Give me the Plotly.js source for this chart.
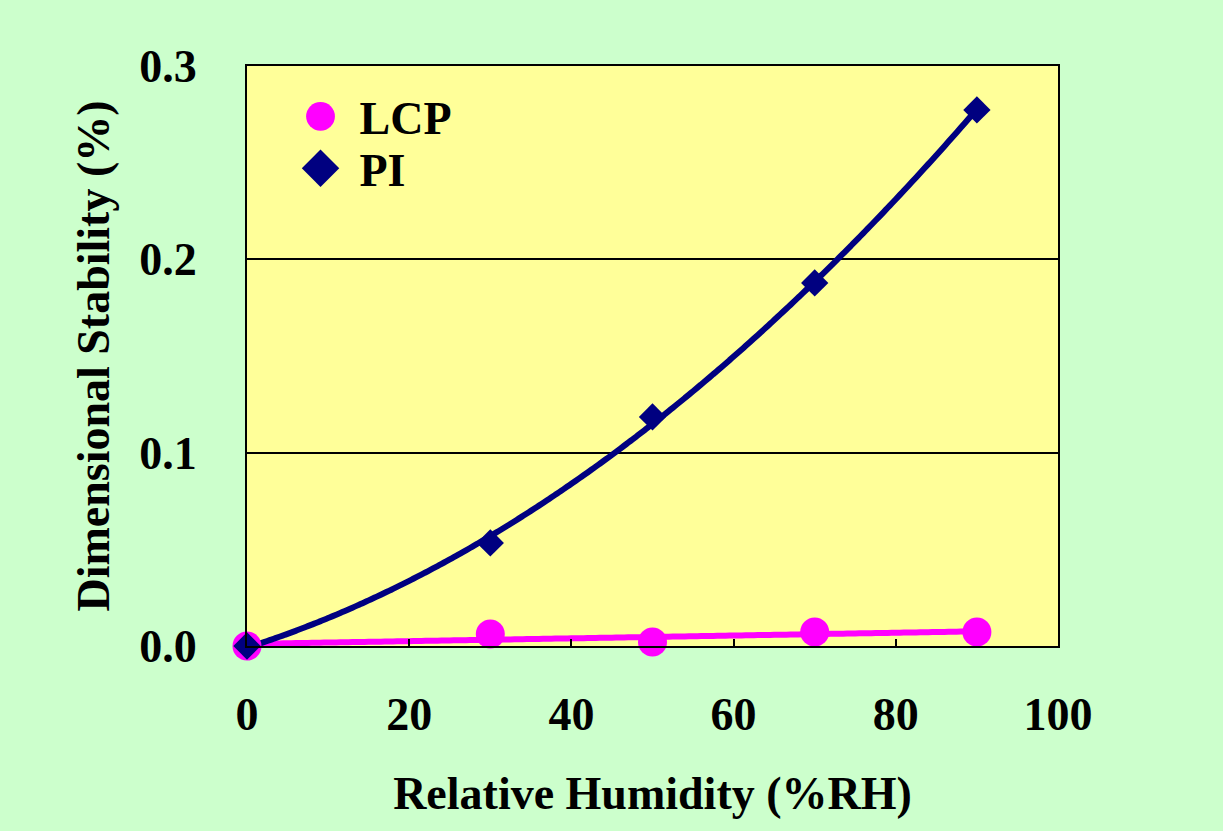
<!DOCTYPE html>
<html>
<head>
<meta charset="utf-8">
<script src="https://cdn.plot.ly/plotly-3.0.1.min.js"></script>
<style>html,body{margin:0;padding:0;background:#CCFFCC;}#chart{width:1223px;height:831px;}</style>
</head>
<body>
<div id="chart"></div>
<script>
// Data
const humidity = [0, 30, 50, 70, 90];            // %RH
const lcpValues = [0, 0.0062, 0.0021, 0.0072, 0.0072]; // Dimensional stability (%)
const piValues  = [0, 0.0533, 0.1185, 0.1878, 0.2773];
const xTicks = [0, 20, 40, 60, 80, 100];
const yTicks = [0, 0.1, 0.2, 0.3];

// Least-squares polynomial trendline (like spreadsheet trendlines)
function polyFit(xs, ys, deg) {
  const n = deg + 1;
  const A = Array.from({length: n}, () => new Array(n + 1).fill(0));
  for (let r = 0; r < n; r++) {
    for (let c = 0; c < n; c++) A[r][c] = xs.reduce((s, x) => s + Math.pow(x, r + c), 0);
    A[r][n] = xs.reduce((s, x, i) => s + ys[i] * Math.pow(x, r), 0);
  }
  for (let i = 0; i < n; i++) {
    let p = i;
    for (let k = i + 1; k < n; k++) if (Math.abs(A[k][i]) > Math.abs(A[p][i])) p = k;
    [A[i], A[p]] = [A[p], A[i]];
    for (let k = i + 1; k < n; k++) {
      const f = A[k][i] / A[i][i];
      for (let j = i; j <= n; j++) A[k][j] -= f * A[i][j];
    }
  }
  const coef = new Array(n).fill(0);
  for (let i = n - 1; i >= 0; i--) {
    let s = A[i][n];
    for (let j = i + 1; j < n; j++) s -= A[i][j] * coef[j];
    coef[i] = s / A[i][i];
  }
  return coef;
}
function trend(xs, ys, deg) {
  const c = polyFit(xs, ys, deg);
  const x0 = Math.min(...xs), x1 = Math.max(...xs);
  const tx = [], ty = [];
  for (let i = 0; i <= 180; i++) {
    const x = x0 + (x1 - x0) * i / 180;
    tx.push(x);
    ty.push(c.reduce((s, ci, k) => s + ci * Math.pow(x, k), 0));
  }
  return {x: tx, y: ty};
}
const lcpTrend = trend(humidity, lcpValues, 1);
const piTrend = trend(humidity, piValues, 2);

const MAGENTA = '#FF00FF', NAVY = '#000080';
const font = {family: 'Liberation Serif, Times New Roman, serif', size: 46, color: '#000', weight: 'bold'};

const traces = [
  {x: lcpTrend.x, y: lcpTrend.y, mode: 'lines', line: {color: MAGENTA, width: 6, simplify: false}, showlegend: false, hoverinfo: 'skip', cliponaxis: false},
  {x: piTrend.x, y: piTrend.y, mode: 'lines', line: {color: NAVY, width: 6, simplify: false, shape: 'spline'}, showlegend: false, hoverinfo: 'skip', cliponaxis: false},
  {x: humidity, y: lcpValues, name: 'LCP', mode: 'markers', marker: {symbol: 'circle', size: 29, color: MAGENTA}, cliponaxis: false},
  {x: humidity, y: piValues, name: 'PI', mode: 'markers', marker: {symbol: 'diamond', size: 21, color: NAVY}, cliponaxis: false}
];

const layout = {
  width: 1223, height: 831,
  paper_bgcolor: '#CCFFCC', plot_bgcolor: '#FFFF99',
  margin: {l: 247, r: 165, t: 66, b: 185},
  font: font,
  showlegend: true,
  legend: {x: 0.066, y: 0.976, xanchor: 'left', yanchor: 'top', bgcolor: 'rgba(0,0,0,0)',
           font: font, tracegroupgap: 0, itemwidth: 30},
  xaxis: {
    range: [0, 100], tickvals: xTicks, ticktext: xTicks.map(String),
    ticks: 'inside', ticklen: 7, tickwidth: 2, tickcolor: '#000',
    showgrid: false, zeroline: false,
    showline: true, linecolor: '#000', linewidth: 2, mirror: true,
    tickfont: font, ticklabelstandoff: 27,
    title: {text: 'Relative Humidity (%RH)', font: font, standoff: 38}
  },
  yaxis: {
    range: [0, 0.3], tickvals: yTicks, ticktext: yTicks.map(v => v.toFixed(1)),
    ticks: '', showgrid: true, gridcolor: '#000', gridwidth: 2, zeroline: false,
    showline: true, linecolor: '#000', linewidth: 2, mirror: true,
    tickfont: font, ticklabelstandoff: 39,
    title: {text: 'Dimensional Stability (%)', font: font, standoff: 15}
  }
};

Plotly.newPlot('chart', traces, layout, {staticPlot: true}).then(gd => {
  // enlarge legend symbols to match the marker size in the chart
  gd.querySelectorAll('.legend .legendpoints path.scatterpts').forEach(p => {
    const t = p.getAttribute('transform') || '';
    p.setAttribute('transform', t + ' scale(1.8)');
  });
  // widen the gap between legend symbol and label
  gd.querySelectorAll('.legend text.legendtext').forEach(t => {
    t.setAttribute('transform', 'translate(19,0)');
  });
  // set the vertical spacing of legend entries
  const items = gd.querySelectorAll('.legend g.traces');
  let y0 = null;
  items.forEach((g, i) => {
    const t = g.getAttribute('transform') || '';
    const m = t.match(/translate\(\s*([-\d.]+)[ ,]+([-\d.]+)\s*\)/);
    if (m) {
      if (y0 === null) y0 = parseFloat(m[2]);
      g.setAttribute('transform', 'translate(' + m[1] + ',' + (y0 + 52 * i) + ')');
    }
  });
  const sb = gd.querySelector('.legend .scrollbox');
  if (sb) sb.removeAttribute('clip-path');
});
</script>
</body>
</html>
